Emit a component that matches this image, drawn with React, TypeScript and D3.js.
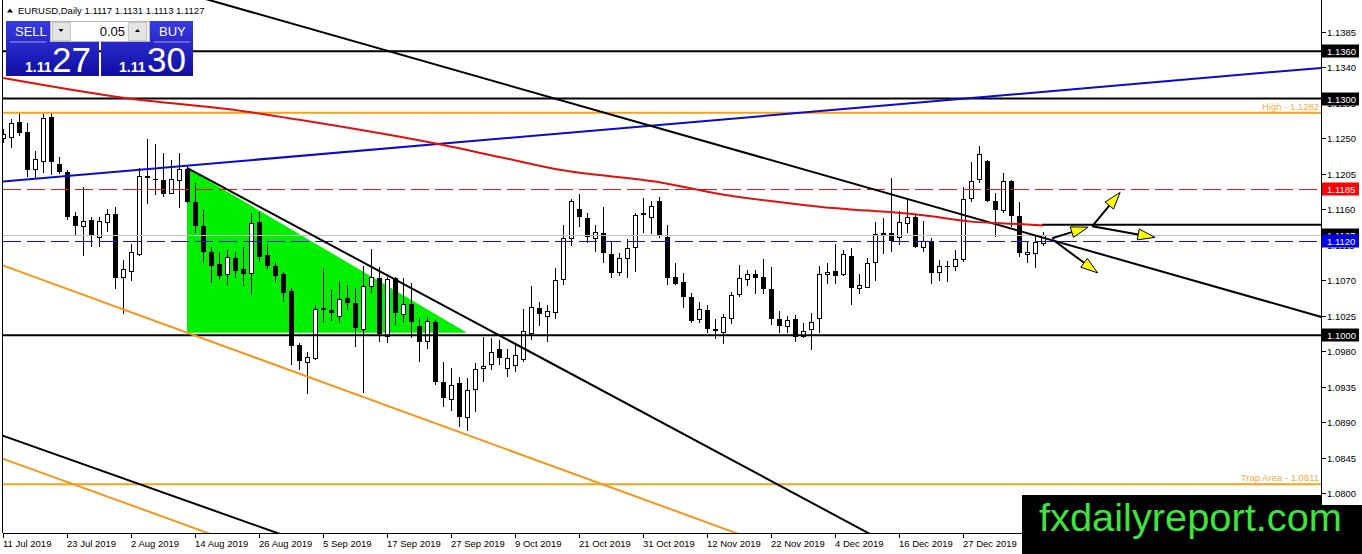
import React from "react";
import * as d3 from "d3";

// ---- data ----
const dateLabels = [
  "11 Jul 2019", "23 Jul 2019", "2 Aug 2019", "14 Aug 2019", "26 Aug 2019",
  "5 Sep 2019", "17 Sep 2019", "27 Sep 2019", "9 Oct 2019", "21 Oct 2019",
  "31 Oct 2019", "12 Nov 2019", "22 Nov 2019", "4 Dec 2019", "16 Dec 2019",
  "27 Dec 2019",
];
const barsPerLabel = 8;

const opens = [
  1.1250, 1.1251, 1.1270, 1.1258, 1.1211, 1.1221, 1.1277, 1.1217, 1.1207, 1.1151,
  1.1138, 1.1146, 1.1124, 1.1143, 1.1154, 1.1074, 1.1081, 1.1103, 1.1202, 1.1198,
  1.1197, 1.1180, 1.1197, 1.1211, 1.1169, 1.1138, 1.1105, 1.1090, 1.1078, 1.1098,
  1.1084, 1.1079, 1.1143, 1.1102, 1.1088, 1.1078, 1.1056, 1.0987, 1.0966, 1.0971,
  1.1033, 1.1032, 1.1024, 1.1047, 1.1041, 1.1008, 1.1062, 1.1072, 1.0999, 1.1072,
  1.1027, 1.1039, 1.1012, 1.0993, 1.1017, 1.0941, 1.0919, 1.0939, 1.0896, 1.0932,
  1.0958, 1.0963, 1.0982, 1.0958, 1.0962, 1.0970, 1.1003, 1.1034, 1.1024, 1.1029,
  1.1071, 1.1123, 1.1160, 1.1148, 1.1123, 1.1129, 1.1103, 1.1080, 1.1098, 1.1112,
  1.1154, 1.1150, 1.1170, 1.1124, 1.1074, 1.1067, 1.1048, 1.1020, 1.1032, 1.1008,
  1.1004, 1.1022, 1.1052, 1.1071, 1.1078, 1.1074, 1.1058, 1.1020, 1.1012, 1.1020,
  1.0999, 1.1008, 1.1022, 1.1078, 1.1081, 1.1078, 1.1100, 1.1060, 1.1061, 1.1093,
  1.1129, 1.1129, 1.1124, 1.1142, 1.1150, 1.1112, 1.1119, 1.1080, 1.1088, 1.1088,
  1.1097, 1.1174, 1.1198, 1.1221, 1.1170, 1.1159, 1.1195, 1.1151, 1.1103, 1.1104,
  1.1117,
];
const highs = [
  1.1262, 1.1274, 1.1282, 1.1269, 1.1233, 1.1282, 1.1282, 1.1226, 1.1209, 1.1156,
  1.1188, 1.1150, 1.1150, 1.1160, 1.1162, 1.1095, 1.1116, 1.1212, 1.1249, 1.1242,
  1.1231, 1.1222, 1.1231, 1.1216, 1.1193, 1.1159, 1.1112, 1.1105, 1.1108, 1.1105,
  1.1112, 1.1155, 1.1156, 1.1116, 1.1093, 1.1080, 1.1060, 1.0990, 1.0979, 1.1038,
  1.1085, 1.1057, 1.1069, 1.1064, 1.1060, 1.1088, 1.1109, 1.1086, 1.1074, 1.1074,
  1.1072, 1.1066, 1.1022, 1.1023, 1.1019, 1.0966, 1.0958, 1.0947, 1.0946, 1.0965,
  1.0998, 1.0996, 1.0994, 1.0983, 1.0989, 1.1033, 1.1062, 1.1042, 1.1038, 1.1085,
  1.1140, 1.1173, 1.1179, 1.1155, 1.1140, 1.1162, 1.1118, 1.1104, 1.1122, 1.1155,
  1.1174, 1.1170, 1.1175, 1.1140, 1.1091, 1.1079, 1.1053, 1.1042, 1.1038, 1.1020,
  1.1027, 1.1055, 1.1089, 1.1083, 1.1083, 1.1097, 1.1086, 1.1031, 1.1024, 1.1026,
  1.1015, 1.1028, 1.1088, 1.1091, 1.1116, 1.1108, 1.1110, 1.1078, 1.1098, 1.1143,
  1.1148, 1.1199, 1.1157, 1.1173, 1.1152, 1.1145, 1.1123, 1.1095, 1.1094, 1.1108,
  1.1188, 1.1220, 1.1240, 1.1222, 1.1180, 1.1206, 1.1197, 1.1169, 1.1119, 1.1126,
  1.1131,
];
const lows = [
  1.1244, 1.1237, 1.1252, 1.1200, 1.1199, 1.1206, 1.1203, 1.1204, 1.1146, 1.1126,
  1.1100, 1.1112, 1.1112, 1.1131, 1.1058, 1.1027, 1.1069, 1.1100, 1.1166, 1.1178,
  1.1175, 1.1179, 1.1161, 1.1168, 1.1129, 1.1091, 1.1066, 1.1070, 1.1064, 1.1072,
  1.1062, 1.1051, 1.1093, 1.1084, 1.1067, 1.1042, 1.0962, 1.0956, 1.0925, 1.0968,
  1.1015, 1.1018, 1.1015, 1.1032, 1.0985, 1.0927, 1.1053, 1.0991, 1.0990, 1.1013,
  1.1015, 1.0996, 1.0966, 1.0982, 1.0937, 1.0909, 1.0904, 1.0884, 1.0878, 1.0903,
  1.0941, 1.0956, 1.0962, 1.0947, 1.0953, 1.0966, 1.0994, 1.1012, 1.0991, 1.1020,
  1.1064, 1.1113, 1.1137, 1.1117, 1.1105, 1.1091, 1.1072, 1.1075, 1.1072, 1.1080,
  1.1129, 1.1128, 1.1123, 1.1064, 1.1064, 1.1034, 1.1015, 1.1015, 1.1003, 1.0995,
  1.0989, 1.1014, 1.1048, 1.1062, 1.1052, 1.1052, 1.1013, 1.1003, 1.1003, 1.0991,
  1.0996, 1.0981, 1.1003, 1.1065, 1.1065, 1.1075, 1.1038, 1.1052, 1.1060, 1.1069,
  1.1103, 1.1105, 1.1114, 1.1129, 1.1110, 1.1105, 1.1065, 1.1069, 1.1067, 1.1081,
  1.1093, 1.1169, 1.1193, 1.1169, 1.1124, 1.1155, 1.1137, 1.1099, 1.1091, 1.1085,
  1.1113,
];
const closes = [
  1.1255, 1.1269, 1.1256, 1.1209, 1.1223, 1.1275, 1.1219, 1.1207, 1.1150, 1.1138,
  1.1145, 1.1126, 1.1145, 1.1154, 1.1072, 1.1084, 1.1105, 1.1202, 1.1199, 1.1197,
  1.1179, 1.1198, 1.1211, 1.1169, 1.1138, 1.1105, 1.1088, 1.1075, 1.1099, 1.1081,
  1.1078, 1.1142, 1.1099, 1.1088, 1.1075, 1.1053, 1.0986, 1.0967, 1.0972, 1.1033,
  1.1034, 1.1028, 1.1046, 1.1041, 1.1009, 1.1062, 1.1074, 1.1001, 1.1071, 1.1028,
  1.1039, 1.1017, 1.0991, 1.1018, 1.0941, 1.0920, 1.0937, 1.0896, 1.0930, 1.0957,
  1.0961, 1.0979, 1.0971, 1.0971, 1.0975, 1.1005, 1.1036, 1.1027, 1.1031, 1.1070,
  1.1123, 1.1170, 1.1150, 1.1124, 1.1131, 1.1104, 1.1079, 1.1098, 1.1110, 1.1152,
  1.1155, 1.1164, 1.1126, 1.1072, 1.1065, 1.1048, 1.1018, 1.1033, 1.1008, 1.1005,
  1.1023, 1.1051, 1.1072, 1.1078, 1.1072, 1.1058, 1.1020, 1.1012, 1.1019, 1.0998,
  1.1005, 1.1017, 1.1078, 1.1080, 1.1075, 1.1103, 1.1060, 1.1064, 1.1091, 1.1128,
  1.1130, 1.1119, 1.1143, 1.1150, 1.1112, 1.1119, 1.1079, 1.1088, 1.1086, 1.1097,
  1.1173, 1.1195, 1.1230, 1.1170, 1.1159, 1.1195, 1.1151, 1.1104, 1.1105, 1.1118,
  1.1127,
];

const priceTicks = [
  1.1385, 1.134, 1.1295, 1.125, 1.1205, 1.116, 1.1115, 1.107, 1.1025, 1.098,
  1.0935, 1.089, 1.0845, 1.08,
];

// moving average, sampled at these bars
const maBars = [0, 15, 30, 37, 55, 62, 70, 82, 89, 102, 115, 121, 127, 130];
const maValues = [
  1.1326, 1.1301, 1.1284, 1.1273, 1.1241, 1.1226, 1.1209, 1.1194, 1.118, 1.1163,
  1.1152, 1.1144, 1.1141, 1.1139,
];

const blackLevels = [1.136, 1.13, 1.1];
const redLevel = 1.1185;
const blueLevel = 1.112;
const bidPrice = 1.1127;
const highLevel = 1.1282;
const trapLevel = 1.0811;
const shortLevel = 1.114;
const shortLevelStart = 129.8;

// trend lines: [bar1, price1, bar2, price2]
const blackTrends = [
  [25, 1.1427, 165.5, 1.1021],
  [22.96, 1.1212, 110, 1.0739],
  [-1, 1.0876, 36, 1.0743],
];
const orangeTrends = [
  [-1, 1.1092, 93, 1.0744],
  [-1, 1.0847, 27, 1.0744],
];
const blueTrend = [-1, 1.1194, 166, 1.134];
const greenTriangle = [
  [22.96, 1.1212],
  [22.96, 1.1003],
  [57.97, 1.1003],
];
const arrows = [
  [131.1, 1.1123, 135.6, 1.1137],
  [136.1, 1.1138, 139.6, 1.1181],
  [136.1, 1.1138, 143.96, 1.1124],
  [131.2, 1.1121, 136.8, 1.1079],
];

const FONT = "'Liberation Sans', Arial, sans-serif";

export default function App() {
  const W = 1362;
  const H = 554;
  const left = 3;
  const right = 1321;
  const bottom = 533;

  const x = d3.scaleLinear().domain([0, 164.7]).range([3.3, 1320.9]);
  const y = d3.scaleLinear().domain([1.1385, 1.08]).range([31.5, 493]);

  const maLine = d3
    .line<number>()
    .x((_, k) => x(maBars[k]))
    .y((d) => y(d))
    .curve(d3.curveMonotoneX);

  const seg = (s: number[]) => ({
    x1: x(s[0]),
    y1: y(s[1]),
    x2: x(s[2]),
    y2: y(s[3]),
  });

  const crisp = (p: number) => Math.round(y(p)) + 0.5;

  // GDI-style dash (18 on, 6 off)
  const dashed = (p: number, on: number, off: number) => {
    const yy = crisp(p);
    const path = d3.path();
    for (let sx = left; sx < right; sx += on + off) {
      path.moveTo(sx, yy);
      path.lineTo(Math.min(sx + on, right), yy);
    }
    return path.toString();
  };

  const priceLabel = (price: number, bg: string, key: string) => {
    const py = Math.round(y(price));
    return (
      <g key={key}>
        <rect x={1322} y={py - 6.5} width={37} height={13} fill={bg} />
        <text x={1327} y={py + 3.5} fill="#fff" fontSize={9.5} fontFamily={FONT}>
          {price.toFixed(4)}
        </text>
      </g>
    );
  };

  return (
    <div style={{ position: "absolute", left: 0, top: 0, background: "#fff" }}>
      <svg width={W} height={H} viewBox={`0 0 ${W} ${H}`} style={{ display: "block" }}>
        <defs>
          <clipPath id="plot">
            <rect x={left} y={0} width={right - left} height={bottom} />
          </clipPath>
          <linearGradient id="btn" x1="0" y1="0" x2="0" y2="1">
            <stop offset="0%" stopColor="#3a3ae6" />
            <stop offset="100%" stopColor="#0e0ea2" />
          </linearGradient>
        </defs>
        <rect width={W} height={H} fill="#fff" />

        <g clipPath="url(#plot)">
          {/* green triangle in the background */}
          <polygon
            points={greenTriangle.map((p) => `${x(p[0])},${y(p[1])}`).join(" ")}
            fill="#00f000"
          />

          {/* candles */}
          {opens.map((o, i) => {
            const c = closes[i];
            const cx = Math.round(x(i));
            const top = Math.round(y(Math.max(o, c)));
            const bot = Math.round(y(Math.min(o, c)));
            const bull = c >= o;
            return (
              <g key={i}>
                <line
                  x1={cx + 0.5}
                  x2={cx + 0.5}
                  y1={Math.round(y(highs[i]))}
                  y2={Math.round(y(lows[i]))}
                  stroke="#000"
                  strokeWidth={1}
                />
                {bull ? (
                  <rect
                    x={cx - 1.5}
                    y={top + 0.5}
                    width={4}
                    height={Math.max(bot - top, 1)}
                    fill="#fff"
                    stroke="#000"
                    strokeWidth={1}
                  />
                ) : (
                  <rect
                    x={cx - 2}
                    y={top}
                    width={5}
                    height={Math.max(bot - top, 1)}
                    fill="#000"
                  />
                )}
              </g>
            );
          })}

          {/* bid line */}
          <line x1={left} x2={right} y1={crisp(bidPrice)} y2={crisp(bidPrice)} stroke="#c0c0c0" strokeWidth={1} />

          {/* dashed levels */}
          <path d={dashed(redLevel, 18, 6)} fill="none" stroke="#e01818" strokeWidth={1} shapeRendering="crispEdges" />
          <path d={dashed(blueLevel, 18, 6)} fill="none" stroke="#1414d8" strokeWidth={1} shapeRendering="crispEdges" />

          {/* orange levels */}
          {[highLevel, trapLevel].map((p) => (
            <line key={p} x1={left} x2={right} y1={y(p)} y2={y(p)} stroke="#f3a21e" strokeWidth={2} />
          ))}

          {/* black horizontal levels */}
          {blackLevels.map((p) => (
            <line key={p} x1={left} x2={right} y1={y(p)} y2={y(p)} stroke="#000" strokeWidth={2} />
          ))}
          <line
            x1={x(shortLevelStart)}
            x2={right}
            y1={y(shortLevel)}
            y2={y(shortLevel)}
            stroke="#000"
            strokeWidth={2}
          />

          {/* trend lines */}
          <line {...seg(blueTrend)} stroke="#0a0acc" strokeWidth={2} />
          {orangeTrends.map((s, k) => (
            <line key={k} {...seg(s)} stroke="#f3961a" strokeWidth={2} />
          ))}
          {blackTrends.map((s, k) => (
            <line key={k} {...seg(s)} stroke="#000" strokeWidth={2} />
          ))}

          {/* moving average */}
          <path d={maLine(maValues) ?? ""} fill="none" stroke="#e01010" strokeWidth={2} />

          {/* arrows */}
          {arrows.map((s, k) => {
            const p = seg(s);
            const a = Math.atan2(p.y2 - p.y1, p.x2 - p.x1);
            const L = 17;
            const Wd = 5.5;
            const bx = p.x2 - L * Math.cos(a);
            const by = p.y2 - L * Math.sin(a);
            const nx = -Math.sin(a) * Wd;
            const ny = Math.cos(a) * Wd;
            return (
              <g key={k}>
                <line x1={p.x1} y1={p.y1} x2={bx} y2={by} stroke="#000" strokeWidth={2} />
                <polygon
                  points={`${p.x2},${p.y2} ${bx + nx},${by + ny} ${bx - nx},${by - ny}`}
                  fill="#ffff00"
                  stroke="#000"
                  strokeWidth={1}
                />
              </g>
            );
          })}
        </g>

        {/* level texts */}
        <text x={1319} y={y(highLevel) - 3} textAnchor="end" fill="#f2ad3c" fontSize={9.5} fontFamily={FONT}>
          High - {highLevel.toFixed(4)}
        </text>
        <text x={1319} y={y(trapLevel) - 3} textAnchor="end" fill="#f2ad3c" fontSize={9.5} fontFamily={FONT}>
          Trap Area - {trapLevel.toFixed(4)}
        </text>

        {/* frame */}
        <line x1={left - 0.5} x2={left - 0.5} y1={0} y2={bottom} stroke="#000" />
        <line x1={right + 0.5} x2={right + 0.5} y1={0} y2={bottom} stroke="#000" />
        <line x1={left} x2={right} y1={bottom + 0.5} y2={bottom + 0.5} stroke="#000" />

        {/* price axis */}
        {priceTicks.map((p) => {
          const py = crisp(p);
          return (
            <g key={p}>
              <line x1={right + 1} x2={right + 5} y1={py} y2={py} stroke="#000" />
              <text x={1327} y={py + 3.5} fill="#000" fontSize={9.5} fontFamily={FONT}>
                {p.toFixed(4)}
              </text>
            </g>
          );
        })}
        {blackLevels.map((p) => priceLabel(p, "#000", `b${p}`))}
        {priceLabel(bidPrice, "#000", "bid")}
        {priceLabel(redLevel, "#ff0000", "red")}
        {priceLabel(blueLevel, "#0000ee", "blue")}

        {/* time axis */}
        {dateLabels.map((d, k) => {
          const tx = Math.round(x(k * barsPerLabel)) + 0.5;
          return (
            <g key={d}>
              <line x1={tx} x2={tx} y1={bottom + 1} y2={bottom + 5} stroke="#000" />
              <text x={tx - 0.5} y={547} fill="#000" fontSize={9.5} fontFamily={FONT}>
                {d}
              </text>
            </g>
          );
        })}

        {/* header */}
        <polygon points="7,12.5 10,8.5 13,12.5" fill="#000" />
        <text x={18} y={14} fontSize={9.5} fontFamily={FONT} fill="#000">
          {`EURUSD,Daily ${opens[opens.length - 1].toFixed(4)} ${highs[highs.length - 1].toFixed(4)} ${lows[lows.length - 1].toFixed(4)} ${closes[closes.length - 1].toFixed(4)}`}
        </text>

        {/* one click trading panel */}
        <path d="M6,21 H50 V42 H99 V76 H6 Z" fill="url(#btn)" />
        <path d="M150,21 H193 V76 H101 V42 H150 Z" fill="url(#btn)" />
        <line x1={10} x2={46} y1={42} y2={42} stroke="#9a9ae8" strokeWidth={1} />
        <line x1={154} x2={190} y1={42} y2={42} stroke="#9a9ae8" strokeWidth={1} />
        <rect x={50.5} y={21.5} width={99} height={20} fill="#f0f0f0" stroke="#b8b8b8" />
        <rect x={52.5} y={22.5} width={18} height={18} fill="#e4e4e4" stroke="#c8c8c8" />
        <rect x={128.5} y={22.5} width={18} height={18} fill="#e4e4e4" stroke="#c8c8c8" />
        <rect x={71} y={22} width={57} height={19} fill="#fff" />
        <polygon points="58.5,29 63.5,29 61,32" fill="#000" />
        <polygon points="135,32 140,32 137.5,29" fill="#000" />
        <text x={125} y={36} textAnchor="end" fontSize={13} fontFamily={FONT} fill="#000">
          0.05
        </text>
        <text x={15} y={36} fontSize={13} fontFamily={FONT} fill="#fff">
          SELL
        </text>
        <text x={159} y={36} fontSize={13} fontFamily={FONT} fill="#fff">
          BUY
        </text>
        <text x={25} y={72} fontSize={14} fontWeight="bold" fontFamily={FONT} fill="#fff">
          1.11
        </text>
        <text x={52} y={72} fontSize={35} fontFamily={FONT} fill="#fff">
          27
        </text>
        <text x={119} y={72} fontSize={14} fontWeight="bold" fontFamily={FONT} fill="#fff">
          1.11
        </text>
        <text x={147} y={72} fontSize={35} fontFamily={FONT} fill="#fff">
          30
        </text>

        {/* watermark */}
        <path d="M1022,495 H1321 V505 H1362 V554 H1022 Z" fill="#000" />
        <text
          x={1039}
          y={531}
          fontSize={38}
          fontFamily={FONT}
          fill="#3ee43e"
          textLength={303}
          lengthAdjust="spacingAndGlyphs"
        >
          fxdailyreport.com
        </text>
      </svg>
    </div>
  );
}
